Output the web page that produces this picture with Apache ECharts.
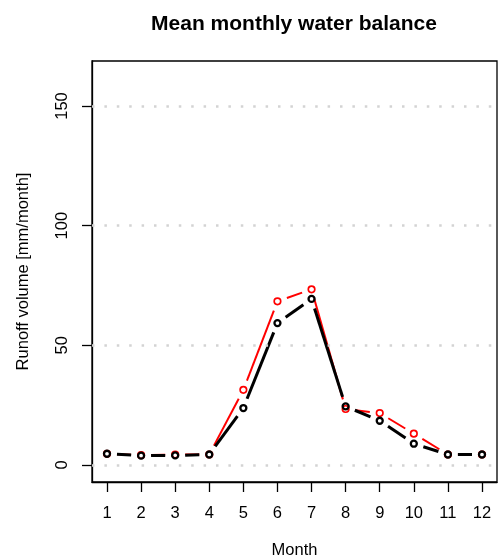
<!DOCTYPE html>
<html>
<head>
<meta charset="utf-8">
<script src="https://cdn.jsdelivr.net/npm/echarts@6/dist/echarts.min.js"></script>
<style>html,body{margin:0;padding:0;background:#fff;}#c{width:504px;height:557px;}</style>
</head>
<body>
<div id="c"></div>
<script>
const months = [1,2,3,4,5,6,7,8,9,10,11,12];
const simulated = [4.7, 4.1, 4.4, 4.4, 31.4, 68.4, 73.4, 23.4, 21.7, 13.1, 4.4, 4.4];
const observed = [4.7, 3.9, 4.0, 4.4, 23.8, 59.3, 69.4, 24.5, 18.5, 8.9, 4.4, 4.4];
const yTicks = [0, 50, 100, 150];
const xTicks = months;

const font = 'Liberation Sans, Arial, Helvetica, sans-serif';

function segments(vals) {
  const out = [];
  for (let i = 0; i < months.length - 1; i++) {
    out.push([months[i], vals[i], months[i + 1], vals[i + 1]]);
  }
  return out;
}
function gapLine(segs, color, width, gap) {
  return function (params, api) {
    const s = segs[params.dataIndex];
    const p1 = api.coord([s[0], s[1]]);
    const p2 = api.coord([s[2], s[3]]);
    const dx = p2[0] - p1[0], dy = p2[1] - p1[1];
    const len = Math.sqrt(dx * dx + dy * dy);
    if (len <= 2 * gap) return null;
    const ux = dx / len, uy = dy / len;
    return {
      type: 'line',
      shape: {x1: p1[0] + ux * gap, y1: p1[1] + uy * gap, x2: p2[0] - ux * gap, y2: p2[1] - uy * gap},
      style: {stroke: color, lineWidth: width, lineCap: 'butt', fill: null}
    };
  };
}
const simSegs = segments(simulated);
const obsSegs = segments(observed);

const chart = echarts.init(document.getElementById('c'), null, {renderer: 'canvas'});
chart.setOption({
  animation: false,
  backgroundColor: '#fff',
  title: {
    text: 'Mean monthly water balance',
    left: 289, top: 9, textAlign: 'center',
    textStyle: {fontFamily: font, fontSize: 21, fontWeight: 'bold', color: '#000'}
  },
  grid: {left: 92, right: 7, top: 61, bottom: 75, show: true, borderColor: '#000', borderWidth: 1.3,
         backgroundColor: 'transparent', containLabel: false, outerBoundsMode: 'none'},
  xAxis: {
    type: 'value', min: 0.56, max: 12.44,
    name: 'Month', nameLocation: 'middle', nameGap: 60,
    nameTextStyle: {fontFamily: font, fontSize: 16.5, color: '#000'},
    axisLine: {show: true, onZero: false, lineStyle: {color: '#000', width: 1.3}},
    axisTick: {show: true, length: 10, customValues: xTicks, lineStyle: {color: '#000', width: 1.3}},
    axisLabel: {customValues: xTicks, margin: 23, fontFamily: font, fontSize: 16.5, color: '#000'},
    splitLine: {show: false}
  },
  yAxis: {
    type: 'value', min: -7.1, max: 168.8,
    name: 'Runoff volume [mm/month]', nameLocation: 'middle', nameGap: 60,
    nameTextStyle: {fontFamily: font, fontSize: 16.5, color: '#000'},
    axisLine: {show: true, onZero: false, lineStyle: {color: '#000', width: 1.3}},
    axisTick: {show: true, length: 10, customValues: yTicks, lineStyle: {color: '#000', width: 1.3}},
    axisLabel: {customValues: yTicks, rotate: 90, margin: 21, fontFamily: font, fontSize: 16.5, color: '#000'},
    splitLine: {show: false}
  },
  series: [
    {
      type: 'line', name: 'grid', data: [], silent: true,
      markLine: {
        silent: true, symbol: 'none', label: {show: false},
        lineStyle: {color: '#d3d3d3', width: 2.5, type: [2.5, 9.9], cap: 'butt'},
        data: yTicks.map(v => ({yAxis: v}))
      }
    },
    {
      type: 'custom', name: 'simulated line', silent: true,
      data: simSegs, encode: {x: [0, 2], y: [1, 3]},
      renderItem: gapLine(simSegs, '#ff0000', 2, 10), z: 3
    },
    {
      type: 'scatter', name: 'simulated',
      data: months.map((m, i) => [m, simulated[i]]),
      symbol: 'circle', symbolSize: 6.5,
      itemStyle: {color: 'rgba(255,255,255,0)', borderColor: '#ff0000', borderWidth: 1.7, opacity: 1},
      z: 3
    },
    {
      type: 'custom', name: 'observed line', silent: true,
      data: obsSegs, encode: {x: [0, 2], y: [1, 3]},
      renderItem: gapLine(obsSegs, '#000000', 3, 10), z: 4
    },
    {
      type: 'scatter', name: 'observed',
      data: months.map((m, i) => [m, observed[i]]),
      symbol: 'circle', symbolSize: 6,
      itemStyle: {color: 'rgba(255,255,255,0)', borderColor: '#000', borderWidth: 2.3, opacity: 1},
      z: 4
    }
  ]
});
</script>
</body>
</html>
